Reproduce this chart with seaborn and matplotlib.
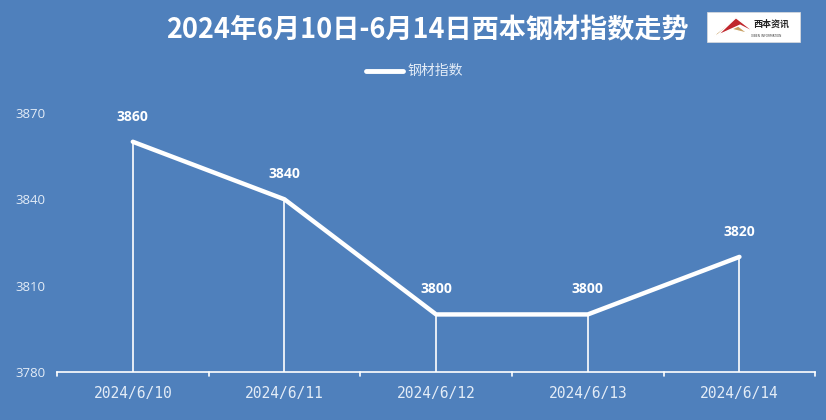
import matplotlib
matplotlib.use("Agg")
import matplotlib.pyplot as plt
import seaborn as sns
import pandas as pd
from matplotlib.patches import Rectangle, Polygon

dates = ["2024/6/10", "2024/6/11", "2024/6/12", "2024/6/13", "2024/6/14"]
values = [3860, 3840, 3800, 3800, 3820]
yticks = [3780, 3810, 3840, 3870]
series_name = "钢材指数"
title = "2024年6月10日-6月14日西本钢材指数走势"

sns.set_theme(style="white")
plt.rcParams['font.family'] = ['Noto Sans CJK SC', 'DejaVu Sans']

bg = "#4F80BC"
fig = plt.figure(figsize=(8.26, 4.2), dpi=100, facecolor=bg)
ax = fig.add_axes([0.069, 0.1143, 0.918, 0.6167])
ax.set_facecolor(bg)

df = pd.DataFrame({"date": dates, "value": values})
df["x"] = range(len(df))
sns.lineplot(data=df, x="x", y="value", ax=ax, color="white", linewidth=3.2,
             label=series_name, legend=False)

ymin, ymax = yticks[0], yticks[-1]
ax.vlines(df["x"], ymin, df["value"], color="white", linewidth=1.2)
for xi, v in zip(df["x"], df["value"]):
    ax.annotate(f"{v}", (xi, v), xytext=(0, 13), textcoords="offset points",
                ha="center", va="bottom", color="white", fontsize=10, fontweight="bold",
                family=["Open Sans", "DejaVu Sans"])

ax.set_xlim(-0.5, len(dates) - 0.5)
ax.set_ylim(ymin, ymax)
ax.set_yticks(yticks)
ax.set_yticklabels([str(t) for t in yticks], color="#E3ECF7", fontsize=9.5,
                   family=["Open Sans", "DejaVu Sans"])
ax.set_xticks(df["x"])
ax.set_xticklabels(dates, color="#E3ECF7", fontsize=10.5, family=["DejaVu Sans Mono"])
ax.tick_params(axis="y", length=0, pad=8)
ax.tick_params(axis="x", length=0, pad=10)
for b in [i - 0.5 for i in range(len(dates) + 1)]:
    ax.plot([b, b], [ymin, ymin - 1.5], color="white", linewidth=1.2, clip_on=False)
for s in ["top", "right", "left"]:
    ax.spines[s].set_visible(False)
ax.spines["bottom"].set_color("white")
ax.spines["bottom"].set_linewidth(1.2)
ax.set_xlabel("")
ax.set_ylabel("")

# legend
fig.lines.append(plt.Line2D([0.443, 0.488], [0.83, 0.83], transform=fig.transFigure,
                            color="white", linewidth=3.5, solid_capstyle="round"))
fig.text(0.493, 0.83, series_name, color="#E3ECF7", fontsize=10, va="center", ha="left")

# title
fig.text(0.517, 0.927, title, color="white", fontsize=19.5, fontweight="bold",
         ha="center", va="center")

# logo
lx0, ly0, lw, lh = 707 / 826, 1 - 42 / 420, 93 / 826, 30 / 420
fig.patches.append(Rectangle((lx0, ly0), lw, lh, transform=fig.transFigure,
                             facecolor="white", edgecolor="#dddddd", linewidth=0.5))
fig.patches.append(Polygon([(lx0 + 0.006, ly0 + 0.012), (lx0 + 0.03, ly0 + 0.05),
                            (lx0 + 0.05, ly0 + 0.02), (lx0 + 0.03, ly0 + 0.03)],
                           closed=True, transform=fig.transFigure, facecolor="#C9A063"))
fig.patches.append(Polygon([(lx0 + 0.012, ly0 + 0.015), (lx0 + 0.035, ly0 + 0.058),
                            (lx0 + 0.06, ly0 + 0.02), (lx0 + 0.04, ly0 + 0.04)],
                           closed=True, transform=fig.transFigure, facecolor="#C0272D"))
fig.text(lx0 + 0.078, ly0 + 0.043, "西本资讯", color="#222222", fontsize=6.5,
         ha="center", va="center", fontweight="bold")
fig.text(lx0 + 0.072, ly0 + 0.015, "XIBEN INFORMATION", color="#444444", fontsize=2.2,
         ha="center", va="center", family=["DejaVu Sans"])

fig.savefig("out.png", dpi=100, facecolor=bg)
